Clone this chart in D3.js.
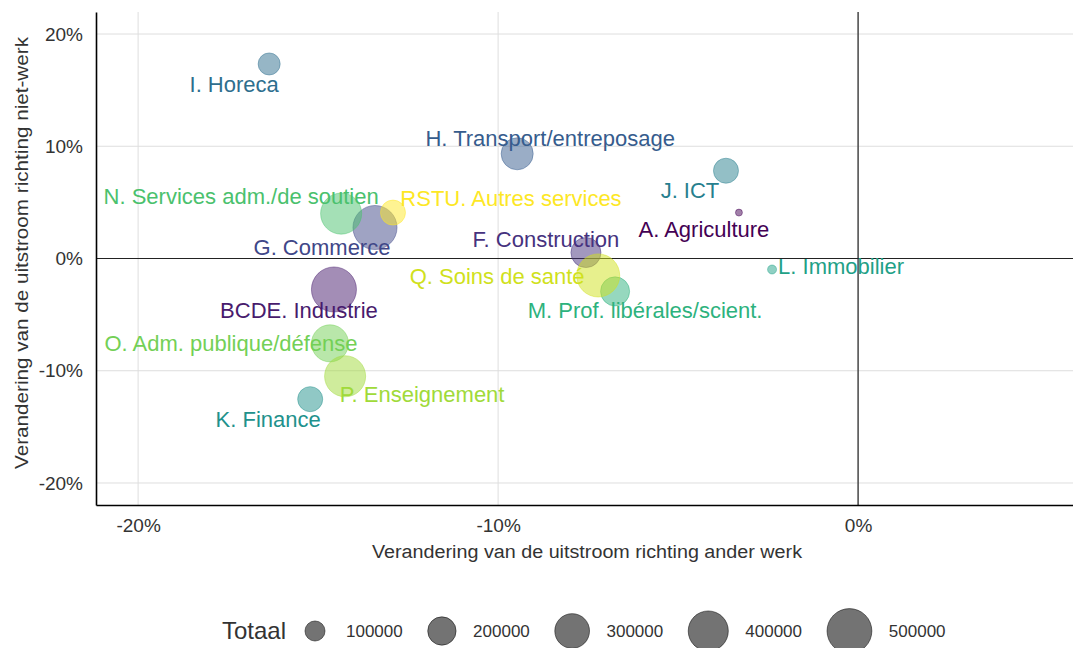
<!DOCTYPE html>
<html>
<head>
<meta charset="utf-8">
<script src="https://cdn.jsdelivr.net/npm/d3@7"></script>
<style>
  body { margin: 0; background: #fff; }
  svg { display: block; font-family: 'Liberation Sans', Arial, sans-serif; }
</style>
</head>
<body>
<div id="chart"></div>
<script>
// sectors, sorted as the factor levels (viridis colours follow this order)
const sectors = [
  'A. Agriculture', 'BCDE. Industrie', 'F. Construction', 'G. Commerce',
  'H. Transport/entreposage', 'I. Horeca', 'J. ICT', 'K. Finance',
  'L. Immobilier', 'M. Prof. libérales/scient.', 'N. Services adm./de soutien',
  'O. Adm. publique/défense', 'P. Enseignement', 'Q. Soins de santé',
  'RSTU. Autres services'
]
// change in outflow towards other work (x) and towards non-work (y)
const changeOtherWork = [-0.0331, -0.1456, -0.0756, -0.1342, -0.0947, -0.1636, -0.0367, -0.1522,
  -0.0239, -0.0675, -0.1436, -0.1467, -0.1425, -0.0722, -0.1292]
const changeNonWork = [0.0409, -0.0276, 0.0053, 0.0276, 0.0933, 0.1733, 0.0782, -0.1253,
  -0.0098, -0.0293, 0.0400, -0.0756, -0.1049, -0.0151, 0.0409]
const totals = [12000, 505000, 225000, 484000, 256000, 121000, 156000, 156000,
  20000, 210000, 420000, 342000, 420000, 462000, 156000]

const xTicks = [-0.2, -0.1, 0]
const yTicks = [-0.2, -0.1, 0, 0.1, 0.2]
const legendValues = [100000, 200000, 300000, 400000, 500000]

// label placement (pixels from the point, like the repelled labels)
const labelDx = [-35, -35, -40, -53, 33, -35, -36, -42, 69, 30, -100, -99, 77, -101, 118]
const labelDy = [24, 29, -6, 27, -8, 28, 27, 28, 4, 27, -10, 8, 26, 9, -7]

const width = 1073
const height = 648
const margin = { top: 12, right: 0, bottom: 143, left: 96 }

const data = sectors.map((s, i) => ({
  sector: s,
  x: changeOtherWork[i],
  y: changeNonWork[i],
  total: totals[i],
  dx: labelDx[i],
  dy: labelDy[i]
}))

const svg = d3.select('#chart').append('svg')
  .attr('width', width)
  .attr('height', height)

const x = d3.scaleLinear()
  .domain([-0.2117, 0.0597])
  .range([margin.left, width - margin.right])
const y = d3.scaleLinear()
  .domain([-0.2196, 0.2196])
  .range([height - margin.bottom, margin.top])
const r = d3.scaleSqrt().domain([0, 500000]).range([0, 22.4])
const color = d3.scaleOrdinal(sectors,
  sectors.map((d, i) => d3.interpolateViridis(i / (sectors.length - 1))))

const pct = (d) => Math.round(d * 100) + '%'

// grid
svg.append('g')
  .selectAll('line')
  .data(xTicks)
  .join('line')
  .attr('x1', (d) => x(d)).attr('x2', (d) => x(d))
  .attr('y1', margin.top).attr('y2', height - margin.bottom)
  .attr('stroke', '#dedede')
svg.append('g')
  .selectAll('line')
  .data(yTicks)
  .join('line')
  .attr('x1', margin.left).attr('x2', width - margin.right)
  .attr('y1', (d) => y(d)).attr('y2', (d) => y(d))
  .attr('stroke', '#dedede')

// reference lines at zero
svg.append('line')
  .attr('x1', x(0)).attr('x2', x(0))
  .attr('y1', margin.top).attr('y2', height - margin.bottom)
  .attr('stroke', '#222').attr('stroke-width', 1.2)
svg.append('line')
  .attr('x1', margin.left).attr('x2', width - margin.right)
  .attr('y1', y(0)).attr('y2', y(0))
  .attr('stroke', '#222').attr('stroke-width', 1.2)

// axes
const xAxis = svg.append('g')
  .attr('transform', `translate(0,${height - margin.bottom})`)
  .call(d3.axisBottom(x).tickValues(xTicks).tickFormat(pct).tickSize(0).tickPadding(14))
const yAxis = svg.append('g')
  .attr('transform', `translate(${margin.left},0)`)
  .call(d3.axisLeft(y).tickValues(yTicks).tickFormat(pct).tickSize(0).tickPadding(13))
for (const ax of [xAxis, yAxis]) {
  ax.select('.domain').attr('stroke', '#000').attr('stroke-width', 1.6)
  ax.selectAll('text')
    .attr('font-size', 19)
    .attr('font-family', "'Liberation Sans', Arial, sans-serif")
    .attr('fill', '#333')
}

svg.append('text')
  .attr('x', 587).attr('y', 558)
  .attr('text-anchor', 'middle')
  .attr('font-size', 18)
  .attr('textLength', 430)
  .attr('lengthAdjust', 'spacingAndGlyphs')
  .attr('fill', '#333')
  .text('Verandering van de uitstroom richting ander werk')
svg.append('text')
  .attr('transform', 'translate(28,253) rotate(-90)')
  .attr('text-anchor', 'middle')
  .attr('font-size', 18)
  .attr('textLength', 432)
  .attr('lengthAdjust', 'spacingAndGlyphs')
  .attr('fill', '#333')
  .text('Verandering van de uitstroom richting niet-werk')

// points
svg.append('g')
  .selectAll('circle')
  .data(data)
  .join('circle')
  .attr('cx', (d) => x(d.x))
  .attr('cy', (d) => y(d.y))
  .attr('r', (d) => r(d.total))
  .attr('fill', (d) => color(d.sector))
  .attr('fill-opacity', 0.5)
  .attr('stroke', (d) => color(d.sector))
  .attr('stroke-opacity', 0.45)

// labels
svg.append('g')
  .selectAll('text')
  .data(data)
  .join('text')
  .attr('x', (d) => x(d.x) + d.dx)
  .attr('y', (d) => y(d.y) + d.dy)
  .attr('text-anchor', 'middle')
  .attr('font-size', 22)
  .attr('fill', (d) => color(d.sector))
  .text((d) => d.sector)

// size legend
const legend = svg.append('g').attr('transform', 'translate(0,631)')
legend.append('text')
  .attr('x', 222).attr('y', 8)
  .attr('font-size', 24)
  .attr('fill', '#333')
  .text('Totaal')
let lx = 290
legendValues.forEach((v) => {
  const rr = r(v)
  const kw = Math.max(50, 2 * rr + 22)
  legend.append('circle')
    .attr('cx', lx + kw / 2).attr('cy', 0).attr('r', rr)
    .attr('fill', '#000').attr('fill-opacity', 0.55)
    .attr('stroke', '#000').attr('stroke-opacity', 0.5)
  const t = legend.append('text')
    .attr('x', lx + kw + 6).attr('y', 6)
    .attr('font-size', 17)
    .attr('fill', '#333')
    .text(v)
  lx += kw + 6 + t.node().getComputedTextLength() + 14
})
</script>
</body>
</html>
